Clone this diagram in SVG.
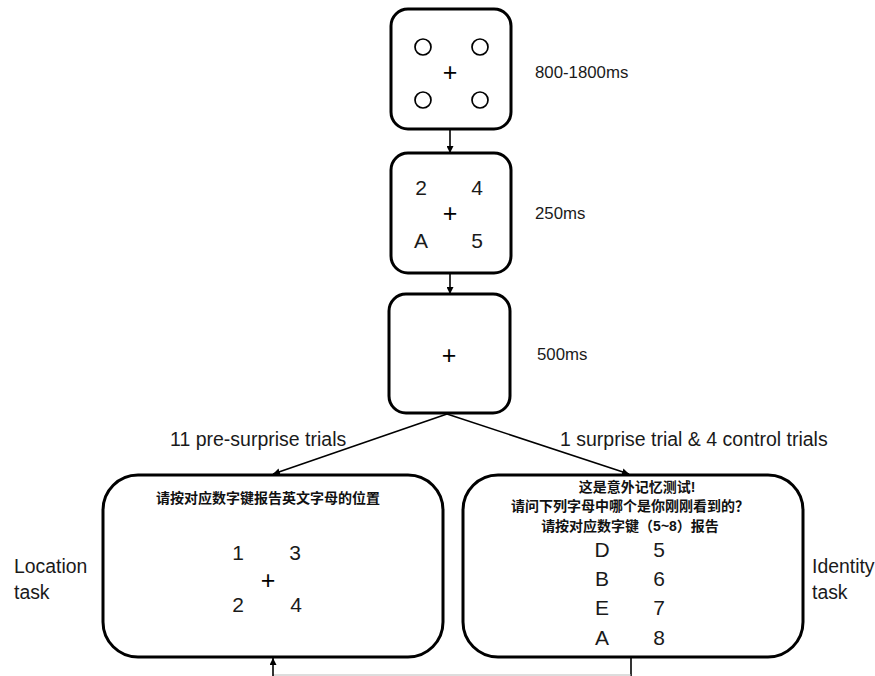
<svg xmlns="http://www.w3.org/2000/svg" width="875" height="676" viewBox="0 0 875 676">
  <style>
    .box { fill: #fff; stroke: #000; stroke-width: 3; }
    .lbl { font-family: "Liberation Sans", Arial, sans-serif; fill: #1a1a1a; }
    .big { font-size: 21px; text-anchor: middle; }
    .plus { font-size: 25px; text-anchor: middle; fill: #000; }
    .time { font-size: 16.8px; }
    .side { font-size: 19.4px; }
    .trial { font-size: 19.5px; }
    .cn { font-family: "Liberation Sans", "Noto Sans CJK SC", sans-serif; font-size: 14px; font-weight: bold; fill: #111; text-anchor: middle; }
    .conn { stroke: #000; stroke-width: 1.6; fill: none; }
    .dot { fill: none; stroke: #000; stroke-width: 1.7; }
  </style>
  <defs>
    <marker id="arr" viewBox="0 0 10 10" refX="10" refY="5" markerWidth="7" markerHeight="7" orient="auto" markerUnits="userSpaceOnUse">
      <path d="M0,0 L10,5 L0,10 z" fill="#000"/>
    </marker>
  </defs>
  <rect width="875" height="676" fill="#fff"/>

  <g id="connectors">
    <line class="conn" x1="450" y1="129" x2="450" y2="153" marker-end="url(#arr)"/>
    <line class="conn" x1="450" y1="273" x2="450" y2="294" marker-end="url(#arr)"/>
    <line class="conn" x1="447" y1="414" x2="273" y2="474" marker-end="url(#arr)"/>
    <line class="conn" x1="447" y1="414" x2="629" y2="474" marker-end="url(#arr)"/>
    <line class="conn" x1="631" y1="657" x2="631" y2="676"/>
    <line x1="273" y1="675" x2="631" y2="675" stroke="#bbb" stroke-width="1"/>
    <line class="conn" x1="273" y1="676" x2="273" y2="658" marker-end="url(#arr)"/>
    <text class="lbl trial" x="170" y="446">11 pre-surprise trials</text>
    <text class="lbl trial" x="560" y="446">1 surprise trial &amp; 4 control trials</text>
  </g>

  <g id="fixation">
    <rect class="box" x="391" y="9" width="120" height="120" rx="17"/>
    <circle class="dot" cx="423" cy="47" r="8"/>
    <circle class="dot" cx="480" cy="47" r="8"/>
    <circle class="dot" cx="423" cy="100" r="8"/>
    <circle class="dot" cx="480" cy="100" r="8"/>
    <text class="lbl plus" x="450" y="81">+</text>
    <text class="lbl time" x="535" y="78">800-1800ms</text>
  </g>

  <g id="stimulus">
    <rect class="box" x="391" y="153" width="120" height="120" rx="17"/>
    <text class="lbl big" x="421" y="195">2</text>
    <text class="lbl big" x="477" y="195">4</text>
    <text class="lbl plus" x="450" y="222">+</text>
    <text class="lbl big" x="421" y="248">A</text>
    <text class="lbl big" x="477" y="248">5</text>
    <text class="lbl time" x="535" y="219">250ms</text>
  </g>

  <g id="blank">
    <rect class="box" x="389" y="294" width="121" height="119" rx="17"/>
    <text class="lbl plus" x="449" y="364">+</text>
    <text class="lbl time" x="537" y="360">500ms</text>
  </g>

  <g id="location-task">
    <rect class="box" x="103" y="475" width="340" height="182" rx="35"/>
    <text class="cn" x="268" y="503">请按对应数字键报告英文字母的位置</text>
    <text class="lbl big" x="238" y="560" font-size="19">1</text>
    <text class="lbl big" x="295" y="560" font-size="19">3</text>
    <text class="lbl plus" x="268" y="589">+</text>
    <text class="lbl big" x="238" y="612" font-size="19">2</text>
    <text class="lbl big" x="296" y="612" font-size="19">4</text>
    <text class="lbl side" x="14" y="573">Location</text>
    <text class="lbl side" x="14" y="599">task</text>
  </g>

  <g id="identity-task">
    <rect class="box" x="463" y="475" width="340" height="182" rx="35"/>
    <text class="cn" x="637" y="492">这是意外记忆测试!</text>
    <text class="cn" x="630" y="511">请问下列字母中哪个是你刚刚看到的？</text>
    <text class="cn" x="630" y="531">请按对应数字键（5~8）报告</text>
    <text class="lbl big" x="602" y="557">D</text>
    <text class="lbl big" x="659" y="557">5</text>
    <text class="lbl big" x="602" y="586">B</text>
    <text class="lbl big" x="659" y="586">6</text>
    <text class="lbl big" x="602" y="615">E</text>
    <text class="lbl big" x="659" y="615">7</text>
    <text class="lbl big" x="602" y="645">A</text>
    <text class="lbl big" x="659" y="645">8</text>
    <text class="lbl side" x="812" y="573">Identity</text>
    <text class="lbl side" x="812" y="599">task</text>
  </g>
</svg>
